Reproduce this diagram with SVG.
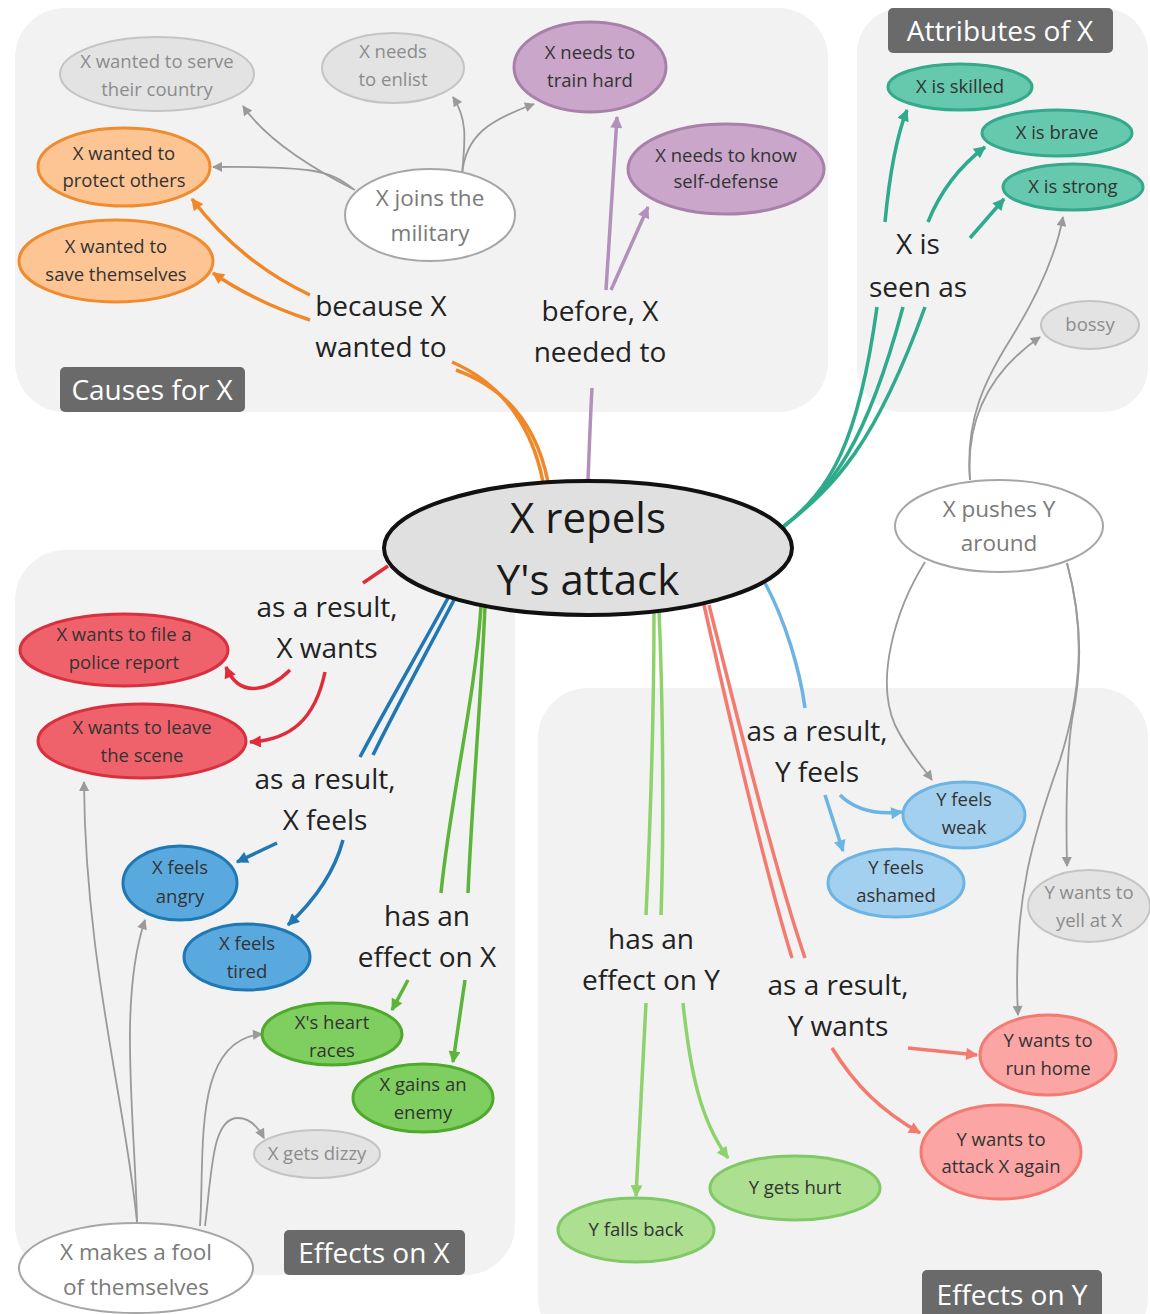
<svg xmlns="http://www.w3.org/2000/svg" width="1150" height="1314" viewBox="0 0 1150 1314">
<defs>
<style>
.panel{fill:#f2f2f2}
.tag rect{fill:#6a6a6a}
.tag text{fill:#fff;font-family:"Open Sans",Lato,sans-serif;font-size:28px;text-anchor:middle}
.nt{font-family:"Open Sans",Lato,sans-serif;font-size:18.5px;text-anchor:middle;fill:#333}
.nt.g{fill:#8c8c8c}
.nt.w{fill:#7a7a7a;font-size:22.5px}
.lbl{font-family:"Open Sans",Lato,sans-serif;font-size:28px;text-anchor:middle;fill:#222}
.gray{fill:#e3e3e3;stroke:#c4c4c4;stroke-width:2}
.white{fill:#fff;stroke:#a6a6a6;stroke-width:2}
.orange{fill:#fdc594;stroke:#f08c30;stroke-width:3}
.purple{fill:#c9a6ca;stroke:#a880aa;stroke-width:3}
.teal{fill:#66c8ac;stroke:#34a98b;stroke-width:3}
.red{fill:#f0626b;stroke:#d8303e;stroke-width:3}
.blue{fill:#5aa9de;stroke:#1f78b4;stroke-width:3}
.green{fill:#7fce60;stroke:#4ea92c;stroke-width:3}
.lblue{fill:#a3d0ef;stroke:#6cb4e4;stroke-width:3}
.lgreen{fill:#addf91;stroke:#81c966;stroke-width:3}
.salmon{fill:#fba5a4;stroke:#f27b74;stroke-width:3}
#edges path{fill:none;stroke-width:3.5}
#edges .e-gray{stroke:#9a9a9a;stroke-width:1.8}
#edges .e-orange{stroke:#f0882a}
#edges .e-purple{stroke:#b390bb}
#edges .e-teal{stroke:#2eaa8c}
#edges .e-red{stroke:#e02c3a}
#edges .e-blue{stroke:#1f78b4}
#edges .e-green{stroke:#5cb53a}
#edges .e-lblue{stroke:#6cb4e4}
#edges .e-lgreen{stroke:#8ed26e}
#edges .e-salmon{stroke:#f47a70}
</style>
<marker id="a-gray" viewBox="0 0 10 10" refX="9" refY="5" markerUnits="userSpaceOnUse" markerWidth="13" markerHeight="10" orient="auto"><path d="M0,0 L10,5 L0,10 z" fill="#9a9a9a"/></marker>
<marker id="a-orange" viewBox="0 0 10 10" refX="9" refY="5" markerUnits="userSpaceOnUse" markerWidth="16" markerHeight="12" orient="auto"><path d="M0,0 L10,5 L0,10 z" fill="#f0882a"/></marker>
<marker id="a-purple" viewBox="0 0 10 10" refX="9" refY="5" markerUnits="userSpaceOnUse" markerWidth="16" markerHeight="12" orient="auto"><path d="M0,0 L10,5 L0,10 z" fill="#b390bb"/></marker>
<marker id="a-teal" viewBox="0 0 10 10" refX="9" refY="5" markerUnits="userSpaceOnUse" markerWidth="16" markerHeight="12" orient="auto"><path d="M0,0 L10,5 L0,10 z" fill="#2eaa8c"/></marker>
<marker id="a-red" viewBox="0 0 10 10" refX="9" refY="5" markerUnits="userSpaceOnUse" markerWidth="16" markerHeight="12" orient="auto"><path d="M0,0 L10,5 L0,10 z" fill="#e02c3a"/></marker>
<marker id="a-blue" viewBox="0 0 10 10" refX="9" refY="5" markerUnits="userSpaceOnUse" markerWidth="16" markerHeight="12" orient="auto"><path d="M0,0 L10,5 L0,10 z" fill="#1f78b4"/></marker>
<marker id="a-green" viewBox="0 0 10 10" refX="9" refY="5" markerUnits="userSpaceOnUse" markerWidth="16" markerHeight="12" orient="auto"><path d="M0,0 L10,5 L0,10 z" fill="#5cb53a"/></marker>
<marker id="a-lblue" viewBox="0 0 10 10" refX="9" refY="5" markerUnits="userSpaceOnUse" markerWidth="16" markerHeight="12" orient="auto"><path d="M0,0 L10,5 L0,10 z" fill="#6cb4e4"/></marker>
<marker id="a-lgreen" viewBox="0 0 10 10" refX="9" refY="5" markerUnits="userSpaceOnUse" markerWidth="16" markerHeight="12" orient="auto"><path d="M0,0 L10,5 L0,10 z" fill="#8ed26e"/></marker>
<marker id="a-salmon" viewBox="0 0 10 10" refX="9" refY="5" markerUnits="userSpaceOnUse" markerWidth="16" markerHeight="12" orient="auto"><path d="M0,0 L10,5 L0,10 z" fill="#f47a70"/></marker>
</defs>
<rect width="1150" height="1314" fill="#fff"/>
<g id="panels">
<rect class="panel" x="15" y="8" width="813" height="404" rx="50"/>
<rect class="panel" x="857" y="8" width="291" height="404" rx="45"/>
<rect class="panel" x="15" y="550" width="500" height="725" rx="50"/>
<rect class="panel" x="538" y="688" width="610" height="660" rx="50"/>
</g>
<g id="tags">
<g class="tag" id="tag-causes"><rect x="60" y="367" width="185" height="45" rx="5"/><text x="152" y="400">Causes for X</text></g>
<g class="tag" id="tag-attr"><rect x="888" y="8" width="225" height="45" rx="5"/><text x="1000" y="41">Attributes of X</text></g>
<g class="tag" id="tag-effx"><rect x="284" y="1230" width="181" height="45" rx="5"/><text x="374" y="1263">Effects on X</text></g>
<g class="tag" id="tag-effy"><rect x="922" y="1270" width="180" height="48" rx="5"/><text x="1012" y="1305">Effects on Y</text></g>
</g>
<g id="edges">
<path class="e-orange" d="M543,482 C533,430 505,385 452,362"/>
<path class="e-orange" d="M548,482 C538,432 512,390 456,370"/>
<path class="e-orange" d="M310,295 Q240,262 192,199" marker-end="url(#a-orange)"/>
<path class="e-orange" d="M310,320 Q255,302 213,273" marker-end="url(#a-orange)"/>
<path class="e-purple" d="M588,481 C589,455 590,425 592,388"/>
<path class="e-purple" d="M606,290 L617,117" marker-end="url(#a-purple)"/>
<path class="e-purple" d="M611,290 L648,207" marker-end="url(#a-purple)"/>
<path class="e-gray" d="M355,190 Q272,148 243,106" marker-end="url(#a-gray)"/>
<path class="e-gray" d="M353,189 C330,170 310,166 213,167" marker-end="url(#a-gray)"/>
<path class="e-gray" d="M462,175 C465,140 468,120 453,97" marker-end="url(#a-gray)"/>
<path class="e-gray" d="M462,175 C465,135 490,120 534,104" marker-end="url(#a-gray)"/>
<path class="e-teal" d="M783,527 C830,490 858,445 877,307"/>
<path class="e-teal" d="M783,527 C832,488 866,445 903,307"/>
<path class="e-teal" d="M783,527 C835,486 875,445 925,307"/>
<path class="e-teal" d="M885,222 C889,180 895,140 907,110" marker-end="url(#a-teal)"/>
<path class="e-teal" d="M928,222 C940,192 960,166 985,147" marker-end="url(#a-teal)"/>
<path class="e-teal" d="M970,238 L1004,199" marker-end="url(#a-teal)"/>
<path class="e-gray" d="M970,480 C965,420 985,380 1010,340 C1035,300 1055,260 1063,217" marker-end="url(#a-gray)"/>
<path class="e-gray" d="M970,480 C966,425 985,375 1040,337" marker-end="url(#a-gray)"/>
<path class="e-gray" d="M925,562 C895,610 875,680 895,725 C908,752 922,766 932,780" marker-end="url(#a-gray)"/>
<path class="e-gray" d="M1067,563 C1085,630 1080,680 1072,720 C1066,760 1066,820 1067,866" marker-end="url(#a-gray)"/>
<path class="e-gray" d="M1067,563 C1085,630 1082,690 1060,760 C1035,830 1012,900 1018,1015" marker-end="url(#a-gray)"/>
<path class="e-red" d="M388,566 L363,583"/>
<path class="e-red" d="M290,670 C270,690 240,700 226,667" marker-end="url(#a-red)"/>
<path class="e-red" d="M325,672 C315,720 290,740 250,742" marker-end="url(#a-red)"/>
<path class="e-blue" d="M448,598 C420,650 390,700 360,757"/>
<path class="e-blue" d="M454,600 C428,650 400,700 373,755"/>
<path class="e-blue" d="M277,843 L237,862" marker-end="url(#a-blue)"/>
<path class="e-blue" d="M343,840 C335,870 315,900 288,925" marker-end="url(#a-blue)"/>
<path class="e-green" d="M481,606 C475,700 450,800 441,893"/>
<path class="e-green" d="M485,606 C481,700 472,800 468,893"/>
<path class="e-green" d="M408,980 L392,1010" marker-end="url(#a-green)"/>
<path class="e-green" d="M465,980 L453,1062" marker-end="url(#a-green)"/>
<path class="e-gray" d="M137,1222 C125,1100 85,960 84,782" marker-end="url(#a-gray)"/>
<path class="e-gray" d="M137,1222 C135,1120 118,1000 145,920" marker-end="url(#a-gray)"/>
<path class="e-gray" d="M200,1226 C205,1150 192,1040 262,1034" marker-end="url(#a-gray)"/>
<path class="e-gray" d="M205,1226 C212,1170 212,1118 238,1118 C250,1118 258,1127 264,1138" marker-end="url(#a-gray)"/>
<path class="e-lblue" d="M765,583 C785,620 800,670 805,708"/>
<path class="e-lblue" d="M825,795 L843,851" marker-end="url(#a-lblue)"/>
<path class="e-lblue" d="M840,795 C855,810 875,815 902,812" marker-end="url(#a-lblue)"/>
<path class="e-lgreen" d="M654,612 C654,700 650,830 646,915"/>
<path class="e-lgreen" d="M659,612 C663,700 664,830 661,915"/>
<path class="e-lgreen" d="M646,1003 L636,1196" marker-end="url(#a-lgreen)"/>
<path class="e-lgreen" d="M683,1003 C690,1070 700,1120 728,1158" marker-end="url(#a-lgreen)"/>
<path class="e-salmon" d="M704,605 C730,720 765,870 792,958"/>
<path class="e-salmon" d="M709,605 C738,720 775,870 805,958"/>
<path class="e-salmon" d="M908,1048 L977,1055" marker-end="url(#a-salmon)"/>
<path class="e-salmon" d="M832,1048 C855,1085 880,1110 920,1133" marker-end="url(#a-salmon)"/>
</g>
<g id="n-serve"><ellipse class="gray" cx="157" cy="74" rx="97" ry="37"/><text class="nt g" x="157" y="68">X wanted to serve</text><text class="nt g" x="157" y="96">their country</text></g>
<g id="n-enlist"><ellipse class="gray" cx="393" cy="68" rx="71" ry="35"/><text class="nt g" x="393" y="58">X needs</text><text class="nt g" x="393" y="86">to enlist</text></g>
<g id="n-train"><ellipse class="purple" cx="590" cy="67" rx="76" ry="45"/><text class="nt" x="590" y="59">X needs to</text><text class="nt" x="590" y="87">train hard</text></g>
<g id="n-selfdef"><ellipse class="purple" cx="726" cy="169" rx="98" ry="45"/><text class="nt" x="726" y="162">X needs to know</text><text class="nt" x="726" y="188">self-defense</text></g>
<g id="n-joins"><ellipse class="white" cx="430" cy="215" rx="85" ry="46"/><text class="nt w" x="430" y="206">X joins the</text><text class="nt w" x="430" y="241">military</text></g>
<g id="n-protect"><ellipse class="orange" cx="124" cy="167" rx="86" ry="39"/><text class="nt" x="124" y="160">X wanted to</text><text class="nt" x="124" y="187">protect others</text></g>
<g id="n-save"><ellipse class="orange" cx="116" cy="261" rx="97" ry="41"/><text class="nt" x="116" y="253">X wanted to</text><text class="nt" x="116" y="281">save themselves</text></g>
<g id="n-skilled"><ellipse class="teal" cx="960" cy="87" rx="72" ry="23"/><text class="nt" x="960" y="93">X is skilled</text></g>
<g id="n-brave"><ellipse class="teal" cx="1057" cy="133" rx="75" ry="23"/><text class="nt" x="1057" y="139">X is brave</text></g>
<g id="n-strong"><ellipse class="teal" cx="1073" cy="187" rx="70" ry="23"/><text class="nt" x="1073" y="193">X is strong</text></g>
<g id="n-bossy"><ellipse class="gray" cx="1090" cy="325" rx="49" ry="24"/><text class="nt g" x="1090" y="331">bossy</text></g>
<g id="n-pushes"><ellipse class="white" cx="999" cy="526" rx="104" ry="46"/><text class="nt w" x="999" y="517">X pushes Y</text><text class="nt w" x="999" y="551">around</text></g>
<g id="n-central"><ellipse cx="588" cy="548" rx="204" ry="67" fill="#e0e0e0" stroke="#111" stroke-width="4"/><text class="lbl" x="588" y="533" style="font-size:42px;fill:#1a1a1a">X repels</text><text class="lbl" x="588" y="595" style="font-size:42px;fill:#1a1a1a">Y's attack</text></g>
<g id="n-file"><ellipse class="red" cx="124" cy="650" rx="104" ry="36"/><text class="nt" x="124" y="641">X wants to file a</text><text class="nt" x="124" y="669">police report</text></g>
<g id="n-leave"><ellipse class="red" cx="142" cy="741" rx="104" ry="37"/><text class="nt" x="142" y="734">X wants to leave</text><text class="nt" x="142" y="762">the scene</text></g>
<g id="n-angry"><ellipse class="blue" cx="180" cy="883" rx="57" ry="37"/><text class="nt" x="180" y="874">X feels</text><text class="nt" x="180" y="903">angry</text></g>
<g id="n-tired"><ellipse class="blue" cx="247" cy="957" rx="63" ry="33"/><text class="nt" x="247" y="950">X feels</text><text class="nt" x="247" y="978">tired</text></g>
<g id="n-heart"><ellipse class="green" cx="332" cy="1034" rx="70" ry="31"/><text class="nt" x="332" y="1029">X's heart</text><text class="nt" x="332" y="1057">races</text></g>
<g id="n-enemy"><ellipse class="green" cx="423" cy="1098" rx="70" ry="34"/><text class="nt" x="423" y="1091">X gains an</text><text class="nt" x="423" y="1119">enemy</text></g>
<g id="n-dizzy"><ellipse class="gray" cx="317" cy="1154" rx="63" ry="24"/><text class="nt g" x="317" y="1160">X gets dizzy</text></g>
<g id="n-fool"><ellipse class="white" cx="136" cy="1268" rx="117" ry="45"/><text class="nt w" x="136" y="1260">X makes a fool</text><text class="nt w" x="136" y="1295">of themselves</text></g>
<g id="n-weak"><ellipse class="lblue" cx="964" cy="815" rx="61" ry="33"/><text class="nt" x="964" y="806">Y feels</text><text class="nt" x="964" y="834">weak</text></g>
<g id="n-ashamed"><ellipse class="lblue" cx="896" cy="883" rx="68" ry="34"/><text class="nt" x="896" y="874">Y feels</text><text class="nt" x="896" y="902">ashamed</text></g>
<g id="n-yell"><ellipse class="gray" cx="1089" cy="906" rx="61" ry="36"/><text class="nt g" x="1089" y="899">Y wants to</text><text class="nt g" x="1089" y="927">yell at X</text></g>
<g id="n-run"><ellipse class="salmon" cx="1048" cy="1055" rx="68" ry="40"/><text class="nt" x="1048" y="1047">Y wants to</text><text class="nt" x="1048" y="1075">run home</text></g>
<g id="n-attack"><ellipse class="salmon" cx="1001" cy="1152" rx="80" ry="47"/><text class="nt" x="1001" y="1146">Y wants to</text><text class="nt" x="1001" y="1173">attack X again</text></g>
<g id="n-hurt"><ellipse class="lgreen" cx="795" cy="1188" rx="85" ry="32"/><text class="nt" x="795" y="1194">Y gets hurt</text></g>
<g id="n-falls"><ellipse class="lgreen" cx="636" cy="1230" rx="78" ry="32"/><text class="nt" x="636" y="1236">Y falls back</text></g>
<g id="labels">
<text class="lbl" x="381" y="316">because X</text><text class="lbl" x="381" y="357">wanted to</text>
<text class="lbl" x="600" y="321">before, X</text><text class="lbl" x="600" y="362">needed to</text>
<text class="lbl" x="918" y="254">X is</text><text class="lbl" x="918" y="297">seen as</text>
<text class="lbl" x="327" y="617">as a result,</text><text class="lbl" x="327" y="658">X wants</text>
<text class="lbl" x="325" y="789">as a result,</text><text class="lbl" x="325" y="830">X feels</text>
<text class="lbl" x="427" y="926">has an</text><text class="lbl" x="427" y="967">effect on X</text>
<text class="lbl" x="817" y="741">as a result,</text><text class="lbl" x="817" y="782">Y feels</text>
<text class="lbl" x="651" y="949">has an</text><text class="lbl" x="651" y="990">effect on Y</text>
<text class="lbl" x="838" y="995">as a result,</text><text class="lbl" x="838" y="1036">Y wants</text>
</g>
</svg>
